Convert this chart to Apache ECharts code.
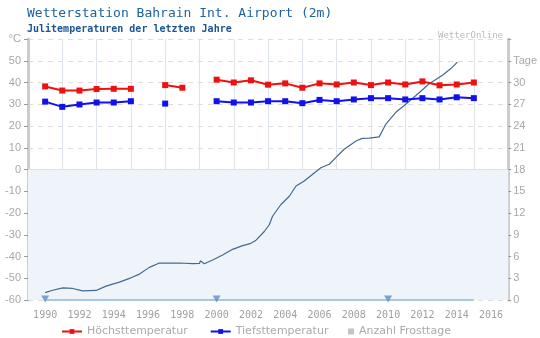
<!DOCTYPE html>
<html><head><meta charset="utf-8">
<script src="https://cdn.jsdelivr.net/npm/echarts@6/dist/echarts.min.js"></script>
<style>html,body{margin:0;padding:0;background:#fff}#c{width:540px;height:338px}</style>
</head><body><div id="c"></div>
<script>
// ---- data ----
const years = [1990,1991,1992,1993,1994,1995,1996,1997,1998,1999,2000,2001,2002,2003,2004,2005,2006,2007,2008,2009,2010,2011,2012,2013,2014,2015];
const highTemps = [38.2,36.3,36.3,37.0,37.1,37.1,null,38.8,37.6,null,41.3,40.0,41.0,39.0,39.6,37.6,39.6,39.1,40.0,38.8,40.0,39.1,40.5,38.7,39.1,40.0];
const lowTemps  = [31.2,28.8,29.9,30.8,30.8,31.4,null,30.3,null,null,31.4,30.8,30.8,31.4,31.4,30.5,32.0,31.4,32.2,32.8,32.8,32.2,32.8,32.2,33.2,32.8];
const frostDays = [0,0,0,0,0,0,0,0,0,0,0,0,0,0,0,0,0,0,0,0,0,0,0,0,0,0];
const frostMarkYears = [1990,2000,2010];
const curveYears  = [1990.0,1990.44,1991.03,1991.6,1992.19,1992.97,1993.55,1994.33,1995.0,1995.5,1996.08,1996.66,1997.83,1998.6,1999.0,1999.05,1999.28,1999.77,2000.35,2000.93,2001.52,2001.95,2002.3,2002.78,2003.07,2003.26,2003.75,2004.24,2004.63,2005.11,2005.6,2006.08,2006.57,2007.05,2007.44,2007.73,2008.15,2008.5,2008.9,2009.48,2009.87,2010.45,2010.94,2011.62,2012.4,2013.17,2013.66,2014.04];
const curveValues = [-56.6,-55.5,-54.4,-54.7,-55.8,-55.6,-53.6,-51.8,-49.8,-48.1,-45.0,-43.0,-43.0,-43.3,-43.2,-42.0,-43.3,-41.6,-39.3,-36.7,-35.0,-34.1,-32.5,-28.5,-25.4,-21.5,-16.1,-12.3,-7.6,-5.3,-2.2,0.8,2.4,6.3,9.3,10.9,13.2,14.3,14.4,15.0,20.9,26.3,29.4,34.0,39.4,43.3,46.4,49.4];
const xTickYears = [1990,1992,1994,1996,1998,2000,2002,2004,2006,2008,2010,2012,2014,2016];
const title = 'Wetterstation Bahrain Int. Airport (2m)';
const subtitle = 'Julitemperaturen der letzten Jahre';
const names = ['Höchsttemperatur','Tiefsttemperatur','Anzahl Frosttage'];

const pair = (xs, ys) => xs.map((x, i) => [x, ys[i]]);

const chart = echarts.init(document.getElementById('c'), null, {renderer: 'canvas'});
const mono = 'DejaVu Sans Mono';
chart.setOption({
  animation: false,
  backgroundColor: '#fff',
  title: [
    {text: title, left: 22, top: 2, textStyle: {fontFamily: mono, fontSize: 13, fontWeight: 'normal', color: '#1d62a2'}},
    {text: subtitle, left: 22, top: 19, textStyle: {fontFamily: mono, fontSize: 10, fontWeight: 'bold', color: '#1d5690'}},
    {text: 'WetterOnline', right: 32, top: 26, textStyle: {fontFamily: mono, fontSize: 9, fontWeight: 'normal', color: '#bbbbbb'}}
  ],
  grid: {left: 28, right: 30, top: 39, bottom: 38, containLabel: false},
  legend: [
    {data: [names[0], names[1]], left: 56, top: 321, itemWidth: 20, itemHeight: 6, itemGap: 22, selectedMode: false,
     textStyle: {fontFamily: 'DejaVu Sans', fontSize: 11, color: '#aaaaaa'}},
    {data: [{name: names[2], icon: 'rect', itemStyle: {color: '#c4c4c4'}}], left: 343, top: 321, itemWidth: 6, itemHeight: 6, selectedMode: false,
     textStyle: {fontFamily: 'DejaVu Sans', fontSize: 11, color: '#aaaaaa'}}
  ],
  xAxis: [
    {type: 'value', min: 1989, max: 2017, position: 'bottom',
     axisLine: {show: true, lineStyle: {color: '#cccccc', width: 2}},
     axisTick: {show: true, customValues: xTickYears, length: 5, lineStyle: {color: '#999999'}},
     axisLabel: {customValues: xTickYears, fontFamily: mono, fontSize: 10, color: '#a0a0a0', margin: 10,
       formatter: v => String(v)},
     splitLine: {show: false}},
    {type: 'value', min: 1989, max: 2017, interval: 2, position: 'bottom',
     axisLine: {show: false}, axisTick: {show: false}, axisLabel: {show: false},
     splitLine: {show: true, lineStyle: {color: '#dde3eb', width: 1}}}
  ],
  yAxis: [
    {type: 'value', min: -60, max: 60, interval: 10, position: 'left',
     axisLine: {show: true, lineStyle: {color: '#cccccc', width: 3}},
     axisTick: {show: true, length: 4, lineStyle: {color: '#999999'}},
     axisLabel: {fontFamily: 'Liberation Sans', fontSize: 11, color: '#a8a8a8', margin: 7,
       formatter: v => v === 60 ? '°C' : String(v)},
     splitLine: {show: true, lineStyle: {color: '#dddddd', type: [5, 5], width: 1}}},
    {type: 'value', min: 0, max: 36, interval: 3, position: 'right',
     axisLine: {show: true, lineStyle: {color: '#cccccc', width: 3}},
     axisTick: {show: true, length: 3, lineStyle: {color: '#999999'}},
     axisLabel: {fontFamily: 'Liberation Sans', fontSize: 11, color: '#a8a8a8', margin: 5,
       formatter: v => v === 33 ? 'Tage' : (v === 36 ? '' : String(v))},
     splitLine: {show: false}}
  ],
  series: [
    {name: 'band', type: 'line', data: [], z: -1, silent: true, xAxisIndex: 0, yAxisIndex: 0,
     markArea: {silent: true, itemStyle: {color: '#eff4fa'}, data: [[{yAxis: -60}, {yAxis: 0}]]}},
    {name: 'curve', type: 'line', xAxisIndex: 0, yAxisIndex: 0, data: pair(curveYears, curveValues),
     showSymbol: false, lineStyle: {color: '#44698f', width: 1.2}, z: 3, silent: true},
    {name: names[2], type: 'line', xAxisIndex: 0, yAxisIndex: 1, data: pair(years, frostDays),
     showSymbol: false, lineStyle: {color: '#a9c6e2', width: 2}, itemStyle: {color: '#a9c6e2'}, z: 2},
    {name: 'frostMarks', type: 'scatter', xAxisIndex: 0, yAxisIndex: 1, data: frostMarkYears.map(y => [y, 0]),
     symbol: 'triangle', symbolRotate: 180, symbolSize: [8, 7], symbolOffset: [0, -1], itemStyle: {color: '#5c8ec3'}, z: 6, silent: true},
    {name: names[0], type: 'line', xAxisIndex: 0, yAxisIndex: 0, data: pair(years, highTemps), connectNulls: false,
     symbol: 'rect', symbolSize: 6, showAllSymbol: true, lineStyle: {color: '#ee1111', width: 2}, itemStyle: {color: '#ee1111'}, z: 5},
    {name: names[1], type: 'line', xAxisIndex: 0, yAxisIndex: 0, data: pair(years, lowTemps), connectNulls: false,
     symbol: 'rect', symbolSize: 6, showAllSymbol: true, lineStyle: {color: '#1111ee', width: 2}, itemStyle: {color: '#1111ee'}, z: 5}
  ]
});
</script></body></html>
